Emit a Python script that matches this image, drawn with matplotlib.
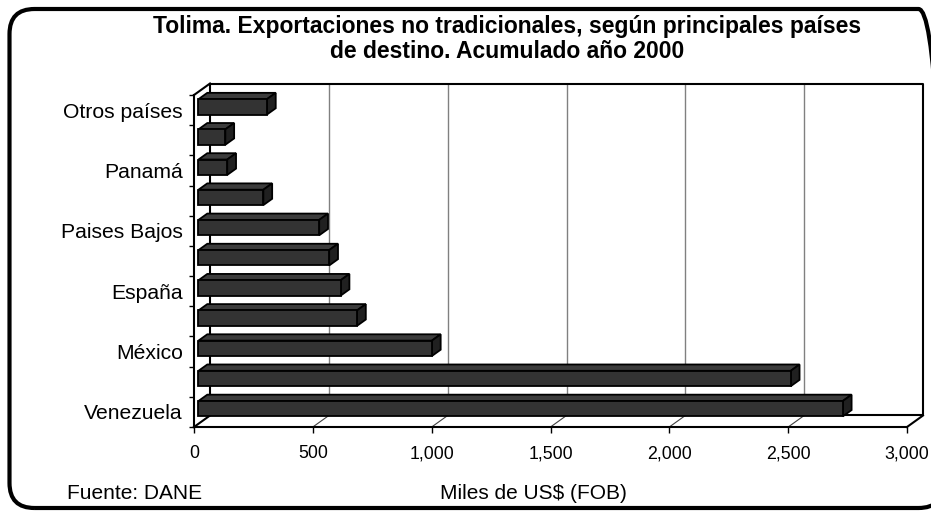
import matplotlib
matplotlib.use('Agg')
import matplotlib.pyplot as plt
from matplotlib.patches import Polygon, Rectangle, FancyBboxPatch
from matplotlib.transforms import IdentityTransform
import numpy as np

# categories from bottom (Venezuela) to top (Otros paises); Excel only printed every other label
countries = ['Venezuela', '', 'México', '', 'España', '', 'Paises Bajos', '', 'Panamá', '', 'Otros países']
# miles de US$ FOB
values = [2711, 2492, 982, 667, 598, 550, 508, 273, 121, 113, 288]
xticks = [0, 500, 1000, 1500, 2000, 2500, 3000]
xticklabels = ['0', '500', '1,000', '1,500', '2,000', '2,500', '3,000']

title1 = 'Tolima. Exportaciones no tradicionales, según principales países'
title2 = 'de destino. Acumulado año 2000'

plt.rcParams['font.family'] = ['Liberation Sans', 'DejaVu Sans']

W, H = 931, 511
fig = plt.figure(figsize=(W / 100, H / 100), dpi=100)
ax = fig.add_axes([194 / W, 84 / H, 713 / W, 332 / H])
ax.set_xlim(0, 3000)
ax.set_ylim(-0.5, 10.5)

# depth of the fake 3d box, in data units
DX = 16 / (713 / 3000)
DY = 11.5 / (332 / 11)
d0, d1 = 0.28, 0.83   # depth of the bar front and back faces
hh = 0.255            # half height of a bar

n = len(values)
ymin, ymax = -0.5, n - 0.5

# back wall gridlines and floor diagonals
for x in xticks[1:-1]:
    ax.plot([x + DX, x + DX], [ymin + DY, ymax + DY], color='#808080', lw=1, clip_on=False, zorder=1)
    ax.plot([x, x + DX], [ymin, ymin + DY], color='#404040', lw=0.8, clip_on=False, zorder=1)

# outline of the back wall and the box edges
ax.plot([DX, DX, 3000 + DX, 3000 + DX, DX], [ymin + DY, ymax + DY, ymax + DY, ymin + DY, ymin + DY],
        color='black', lw=1.5, clip_on=False, zorder=2)
for (x, y) in [(0, ymin), (0, ymax), (3000, ymin)]:
    ax.plot([x, x + DX], [y, y + DY], color='black', lw=1.5, clip_on=False, zorder=2)

# the bars
front_c, top_c, side_c = '#333333', '#3c3c3c', '#202020'
for i, v in enumerate(values):
    fx, fy = d0 * DX, d0 * DY
    bx, by = d1 * DX, d1 * DY
    front = Rectangle((fx, i - hh + fy), v, 2 * hh, facecolor=front_c, edgecolor='black', lw=1.3,
                      clip_on=False, zorder=5)
    top = Polygon([(fx, i + hh + fy), (fx + v, i + hh + fy), (bx + v, i + hh + by), (bx, i + hh + by)],
                  closed=True, facecolor=top_c, edgecolor='black', lw=1.3, clip_on=False, zorder=4)
    side = Polygon([(fx + v, i - hh + fy), (fx + v, i + hh + fy), (bx + v, i + hh + by), (bx + v, i - hh + by)],
                   closed=True, facecolor=side_c, edgecolor='black', lw=1.3, clip_on=False, zorder=4)
    ax.add_patch(top)
    ax.add_patch(side)
    ax.add_patch(front)

# axes: left spine = front y axis, bottom spine = front floor edge
for s in ['top', 'right']:
    ax.spines[s].set_visible(False)
for s in ['left', 'bottom']:
    ax.spines[s].set_linewidth(1.5)
    ax.spines[s].set_zorder(6)
ax.set_facecolor('none')

ax.set_xticks(xticks)
ax.set_xticklabels(xticklabels, fontsize=12.8)
ax.tick_params(axis='x', length=4, width=1, pad=9, direction='out')

ax.set_yticks(range(n))
ax.set_yticklabels(countries, fontsize=15.2)
ax.set_yticks(np.arange(-0.5, n, 1.0), minor=True)
ax.tick_params(axis='y', which='major', length=0, pad=8)
ax.tick_params(axis='y', which='minor', length=3.5, width=1, direction='out')

fig.text(507 / W, 1 - 33 / H, title1, ha='center', va='baseline', fontsize=16.5, fontweight='bold')
fig.text(507 / W, 1 - 57.5 / H, title2, ha='center', va='baseline', fontsize=16.5, fontweight='bold')
fig.text(67 / W, 1 - 499 / H, 'Fuente: DANE', fontsize=15, va='baseline')
fig.text(440 / W, 1 - 499 / H, 'Miles de US$ (FOB)', fontsize=15, va='baseline')

# rounded frame around the whole chart (pixel coords)
frame = FancyBboxPatch((9.5, 3), 934, 499, boxstyle='round,pad=0,rounding_size=25',
                       transform=IdentityTransform(), fill=False, edgecolor='black', lw=3)
fig.add_artist(frame)

fig.savefig('out.png', dpi=100)
